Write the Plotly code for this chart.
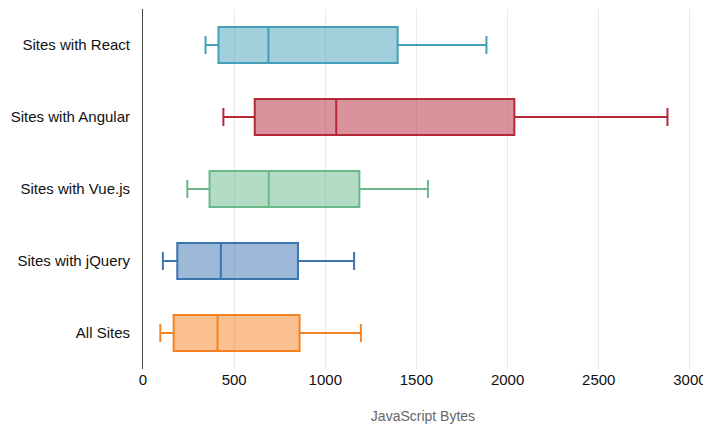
import plotly.graph_objects as go

# box statistics (JavaScript bytes)
groups = ["Sites with React", "Sites with Angular", "Sites with Vue.js", "Sites with jQuery", "All Sites"]
lower = [343, 441, 243, 109, 95]
q1 = [414, 613, 365, 188, 168]
median = [688, 1060, 690, 427, 409]
q3 = [1397, 2037, 1187, 850, 859]
upper = [1884, 2877, 1563, 1158, 1195]
colors = ["#44a0b8", "#b5283a", "#69b98a", "#3a75b0", "#f58220"]


def fill_of(hex_color, alpha=0.5):
    r, g, b = (int(hex_color[i:i + 2], 16) for i in (1, 3, 5))
    return "rgba(%d,%d,%d,%.2f)" % (r, g, b, alpha)


fig = go.Figure()

for i in range(len(groups)):
    fig.add_trace(go.Box(
        y=[groups[i]],
        q1=[q1[i]],
        median=[median[i]],
        q3=[q3[i]],
        lowerfence=[lower[i]],
        upperfence=[upper[i]],
        orientation="h",
        name=groups[i],
        width=0.5,
        whiskerwidth=0.5,
        line=dict(color=colors[i], width=2),
        fillcolor=fill_of(colors[i]),
        showlegend=False,
        hoverinfo="x"
    ))

# page body has an 8px margin, so the figure is offset a bit in the window
fig.update_layout(
    width=703, height=432,
    margin=dict(l=135, r=8, t=1, b=71),
    paper_bgcolor="white",
    plot_bgcolor="white",
    font=dict(family="Liberation Sans, Arial, sans-serif", size=15, color="#222"),
    boxmode="overlay",
    showlegend=False
)
fig.update_xaxes(
    range=[0, 3072],
    dtick=500,
    showgrid=True,
    gridcolor="#e9e9e9",
    gridwidth=1,
    zeroline=False,
    showline=False,
    ticks="",
    title=dict(text="JavaScript Bytes", font=dict(size=14, color="#666"), standoff=24),
    tickfont=dict(size=15, color="#111")
)
fig.update_yaxes(
    categoryorder="array",
    categoryarray=groups[::-1],
    showgrid=False,
    zeroline=False,
    showline=True,
    linecolor="#444",
    linewidth=1,
    ticks="",
    ticklabelstandoff=9,
    tickfont=dict(size=15, color="#111")
)

fig.write_html("out.html")
